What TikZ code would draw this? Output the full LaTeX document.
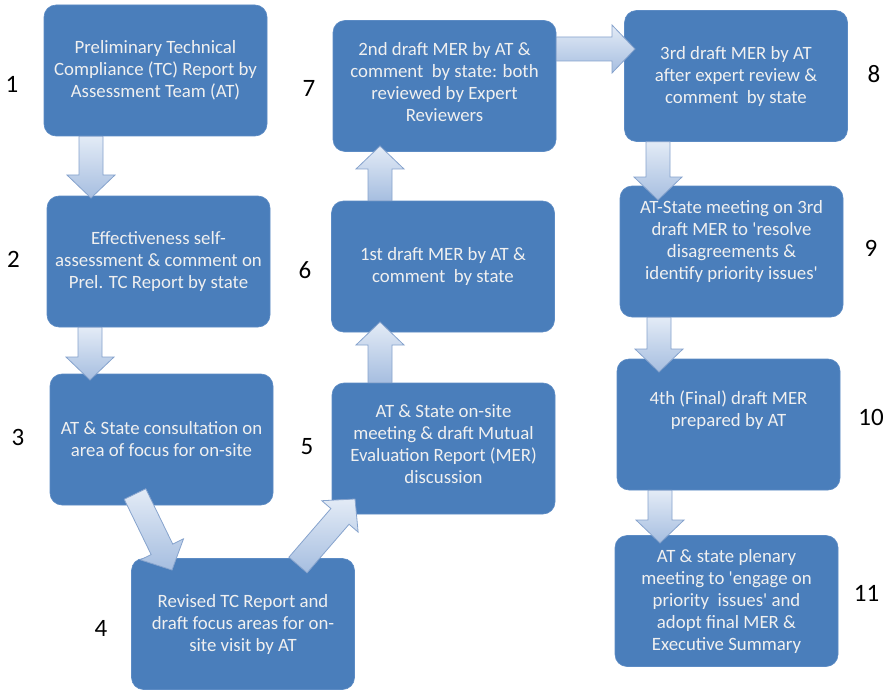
\documentclass[tikz,border=0pt]{standalone}
\usepackage{fontspec}
\setmainfont{Carlito}[Ligatures=TeXOff]
\usetikzlibrary{calc}
\definecolor{boxblue}{HTML}{4A7EBB}
\definecolor{boxedge}{HTML}{5C8BC4}
\definecolor{arrowtop}{HTML}{E3EBF6}
\definecolor{arrowbot}{HTML}{A6BEE0}
\definecolor{arrowline}{HTML}{86A3CD}
\definecolor{boxtxt}{HTML}{F0F0F0}
\tikzset{
  stepbox/.style={rectangle, rounded corners=12pt, fill=boxblue, draw=boxedge, line width=0.6pt,
    text=boxtxt, font=\fontsize{18.8}{22}\selectfont, align=center,
    minimum width=223pt, minimum height=131pt, inner sep=0pt},
  boxlabel/.style={text=boxtxt, font=\fontsize{18.8}{22}\selectfont, align=center, inner sep=0pt},
  numlabel/.style={text=black, font=\fontsize{25}{27}\selectfont, inner sep=0pt},
  barrow/.style={draw=arrowline, top color=arrowtop, bottom color=arrowbot, line width=0.8pt, line join=miter}
}
\newcommand\blockarrow[2]{%
  \coordinate (ba-c) at ($(#2)!23pt!(#1)$);
  \path[barrow] ($(#1)!12pt!90:(#2)$) -- ($(ba-c)!12pt!90:(#2)$) -- ($(ba-c)!24pt!90:(#2)$)
    -- (#2) -- ($(ba-c)!24pt!-90:(#2)$) -- ($(ba-c)!12pt!-90:(#2)$) -- ($(#1)!12pt!-90:(#2)$) -- cycle;
}
\begin{document}
\begin{tikzpicture}[x=1pt,y=-1pt]
\fill[white] (0,0) rectangle (889,690);
\useasboundingbox (0,0) rectangle (889,690);

\node[stepbox] (b1) at (155.5,70.5) {Preliminary Technical\\Compliance (TC) Report by\\Assessment Team (AT)};
\node[stepbox] (b2) at (158.5,261.5) {Effectiveness self-\\assessment \& comment on\\Prel. TC Report by state};
\node[stepbox] (b3) at (161.5,439.5) {AT \& State consultation on\\area of focus for on-site};
\node[stepbox] (b4) at (243,624) {Revised TC Report and\\draft focus areas for on-\\site visit by AT};
\node[stepbox, label={[boxlabel, yshift=4pt]center:{AT \& State on-site\\meeting \& draft Mutual\\Evaluation Report (MER)\\discussion}}] (b5) at (443.5,448.5) {};
\node[stepbox] (b6) at (443,266.5) {1st draft MER by AT \&\\comment\ \ by state};
\node[stepbox, label={[boxlabel, yshift=4pt]center:{2nd draft MER by AT \&\\comment\ \ by state: both\\reviewed by Expert\\Reviewers}}] (b7) at (444.5,86) {};
\node[stepbox] (b8) at (736,76) {3rd draft MER by AT\\after expert review \&\\comment\ \ by state};
\node[stepbox, label={[boxlabel, yshift=10pt]center:{AT-State meeting on 3rd\\draft MER to 'resolve\\disagreements \&\\identify priority issues'}}] (b9) at (731.5,251.5) {};
\node[stepbox, label={[boxlabel, yshift=14pt]center:{4th (Final) draft MER\\prepared by AT}}] (b10) at (728.5,424.5) {};
\node[stepbox] (b11) at (726.5,601) {AT \& state plenary\\meeting to 'engage on\\priority\ \ issues' and\\adopt final MER \&\\Executive Summary};

\node[numlabel] (n1) at (12,84) {1};
\node[numlabel] (n2) at (13.5,259) {2};
\node[numlabel] (n3) at (18,437) {3};
\node[numlabel] (n4) at (101,628) {4};
\node[numlabel] (n5) at (307,447) {5};
\node[numlabel] (n6) at (305,270) {6};
\node[numlabel] (n7) at (309,88) {7};
\node[numlabel] (n8) at (874,74) {8};
\node[numlabel] (n9) at (871,248) {9};
\node[numlabel] (n10) at (871,417) {10};
\node[numlabel] (n11) at (866.5,593) {11};

\coordinate (a12s) at (b1.south -| 91,0);  \coordinate (a12e) at (91,198);
\coordinate (a23s) at (b2.south -| 90,0);  \coordinate (a23e) at (90,380);
\coordinate (a34s) at (135,494);           \coordinate (a34e) at (172,570);
\coordinate (a45s) at (298,565);           \coordinate (a45e) at (355,499);
\coordinate (a56s) at (b5.north -| 380,0); \coordinate (a56e) at (380,322);
\coordinate (a67s) at (b6.north -| 380,0); \coordinate (a67e) at (380,146);
\coordinate (a78s) at (b7.east |- 0,49);   \coordinate (a78e) at (635,49);
\coordinate (a89s) at (b8.south -| 658,0); \coordinate (a89e) at (658,200);
\coordinate (a910s) at (b9.south -| 659,0); \coordinate (a910e) at (659,372);
\coordinate (a1011s) at (b10.south -| 660,0); \coordinate (a1011e) at (660,543);

\blockarrow{a12s}{a12e}
\blockarrow{a23s}{a23e}
\blockarrow{a34s}{a34e}
\blockarrow{a45s}{a45e}
\blockarrow{a56s}{a56e}
\blockarrow{a67s}{a67e}
\blockarrow{a78s}{a78e}
\blockarrow{a89s}{a89e}
\blockarrow{a910s}{a910e}
\blockarrow{a1011s}{a1011e}
\end{tikzpicture}
\end{document}
